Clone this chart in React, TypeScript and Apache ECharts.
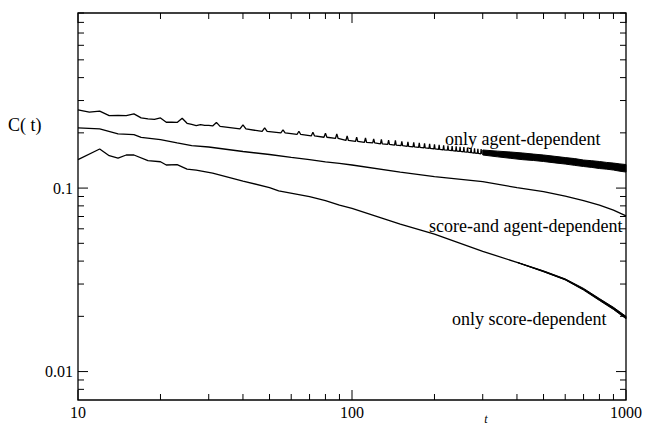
import React, { useEffect, useRef } from "react";
import * as echarts from "echarts";

// ---- axis ranges & ticks ----
const X_MIN = 10;
const X_MAX = 1000;
const Y_MIN = 0.007;
const Y_MAX = 0.9;
const xMajorTicks = [10, 100, 1000];
const xMinorTicks = [20, 30, 40, 50, 60, 70, 80, 90, 200, 300, 400, 500, 600, 700, 800, 900];
const yMajorTicks = [0.01, 0.1];
const yMinorTicks = [0.008, 0.009, 0.02, 0.03, 0.04, 0.05, 0.06, 0.07, 0.08, 0.09, 0.2, 0.3, 0.4, 0.5, 0.6, 0.7, 0.8, 0.9];

// ---- only agent-dependent (early part, read point by point) ----
const agentEarlyT = [10, 11, 12, 13, 14, 15, 16, 17, 18, 19, 20, 21, 22, 23, 24, 25, 26, 27, 28, 29, 30, 31, 32, 33];
const agentEarlyC = [0.2668, 0.2592, 0.2625, 0.2483, 0.249, 0.2483, 0.2537, 0.2412, 0.2382, 0.2367, 0.2412, 0.2285, 0.2285, 0.228, 0.2403, 0.2256, 0.2223, 0.219, 0.2217, 0.2195, 0.2195, 0.2181, 0.228, 0.2168];
// periodic spikes (every 8 steps): baseline and spike top
const agentSpikeT = [40, 48, 56, 64, 72, 80, 88, 96, 104, 112, 120, 128, 136, 144, 152, 160, 168, 176, 184, 192, 200, 208, 216, 224, 232, 240, 248, 256, 264, 272, 280, 288, 296];
const agentSpikeBase = [0.2101, 0.2036, 0.1998, 0.196, 0.1924, 0.1893, 0.1864, 0.1818, 0.1795, 0.1777, 0.1762, 0.1744, 0.1729, 0.1716, 0.1703, 0.169, 0.1677, 0.1667, 0.1657, 0.1646, 0.1636, 0.1626, 0.1615, 0.1609, 0.1601, 0.1593, 0.1585, 0.1577, 0.1569, 0.1561, 0.1553, 0.1545, 0.1537];
const agentSpikeTop = [0.2209, 0.2127, 0.2074, 0.204, 0.2015, 0.1992, 0.1973, 0.1924, 0.1893, 0.1876, 0.1852, 0.184, 0.1824, 0.1818, 0.1799, 0.1788, 0.1775, 0.1766, 0.1755, 0.1744, 0.1734, 0.1723, 0.1712, 0.1705, 0.1697, 0.1688, 0.168, 0.1671, 0.1663, 0.1654, 0.1646, 0.1638, 0.163];
// dense oscillation band at late times: upper / lower envelope
const agentBandT = [300, 340, 380, 420, 460, 500, 550, 600, 650, 700, 750, 800, 850, 900, 950, 1000];
const agentBandHi = [0.1613, 0.159, 0.1572, 0.1553, 0.1532, 0.1515, 0.149, 0.1467, 0.1448, 0.1422, 0.141, 0.1396, 0.138, 0.1369, 0.1355, 0.1344];
const agentBandLo = [0.1515, 0.148, 0.1452, 0.1428, 0.1414, 0.1396, 0.1372, 0.1352, 0.133, 0.1311, 0.1296, 0.1278, 0.1268, 0.1254, 0.1236, 0.1223];

// ---- score-and agent-dependent ----
const bothT = [10, 12, 14, 16, 17, 20, 23, 26, 30, 40, 50, 60, 70, 80, 90, 100, 150, 200, 300, 400, 500, 600, 700, 800, 900, 1000];
const bothC = [0.2128, 0.2101, 0.1973, 0.1956, 0.1892, 0.1836, 0.1762, 0.1703, 0.1675, 0.1583, 0.1524, 0.1471, 0.1428, 0.139, 0.1365, 0.1336, 0.1223, 0.1156, 0.1085, 0.1006, 0.0957, 0.0904, 0.0855, 0.0807, 0.0758, 0.0706];

// ---- only score-dependent ----
const scoreT = [10, 12, 13, 14, 15, 16, 18, 20, 21, 23, 25, 27, 31, 40, 50, 54, 70, 80, 90, 100, 150, 200, 300, 400, 500, 600, 700, 800, 900, 1000];
const scoreC = [0.1428, 0.1634, 0.1501, 0.1458, 0.1515, 0.1515, 0.141, 0.1392, 0.1336, 0.1341, 0.127, 0.1254, 0.1208, 0.1092, 0.1006, 0.0966, 0.0899, 0.0855, 0.0807, 0.0775, 0.0636, 0.0561, 0.0452, 0.0394, 0.0352, 0.0318, 0.0281, 0.0247, 0.0221, 0.0197];
// noisy thickening of the score-dependent curve at late times
const scoreBandT = [400, 500, 600, 700, 800, 900, 1000];
const scoreBandHi = [0.0394, 0.0354, 0.032, 0.0284, 0.025, 0.0224, 0.02];
const scoreBandLo = [0.0394, 0.035, 0.0316, 0.0278, 0.0244, 0.0218, 0.0194];

const SERIF = '"Liberation Serif", "DejaVu Serif", serif';

function buildAgent(): number[][] {
  const pts: number[][] = agentEarlyT.map((t, i) => [t, agentEarlyC[i]]);
  agentSpikeT.forEach((t, i) => {
    pts.push([t - 1, agentSpikeBase[i]]);
    pts.push([t, agentSpikeTop[i]]);
    pts.push([t + 1, agentSpikeBase[i]]);
  });
  return pts;
}

function bandSeries(name: string, T: number[], hi: number[], lo: number[], stroke: number) {
  return {
    type: "custom",
    name,
    data: [[T[0], hi[0]]],
    encode: { x: 0, y: 1 },
    z: 3,
    renderItem: (_p: any, api: any) => {
      const pts: number[][] = [];
      T.forEach((t, i) => pts.push(api.coord([t, hi[i]])));
      for (let i = T.length - 1; i >= 0; i--) pts.push(api.coord([T[i], lo[i]]));
      return { type: "polygon", shape: { points: pts }, style: { fill: "#000", stroke: "#000", lineWidth: stroke, lineJoin: "round" } };
    },
  };
}

export default function App() {
  const ref = useRef<HTMLDivElement>(null);
  useEffect(() => {
    if (!ref.current) return;
    document.body.style.margin = "0";
    const chart = echarts.init(ref.current, null, { renderer: "svg" });
    const lineStyle = { color: "#000", width: 1.3 };
    const fmt = (v: number) => String(parseFloat(Number(v).toPrecision(3)));
    const tickLine = (x1: number, y1: number, x2: number, y2: number) => ({
      type: "line",
      shape: { x1, y1, x2, y2 },
      style: { stroke: "#000", lineWidth: 1 },
    });
    chart.setOption({
      animation: false,
      backgroundColor: "#fff",
      grid: { left: 78, right: 16, top: 13, bottom: 26, show: true, borderColor: "#000", borderWidth: 1.3, backgroundColor: "transparent" },
      xAxis: {
        type: "log",
        logBase: 10,
        min: X_MIN,
        max: X_MAX,
        axisLine: { show: false },
        axisTick: { show: false },
        splitLine: { show: false },
        axisLabel: { color: "#000", fontFamily: SERIF, fontSize: 16, margin: 4, formatter: fmt },
      },
      yAxis: {
        type: "log",
        logBase: 10,
        min: Y_MIN,
        max: Y_MAX,
        axisLine: { show: false },
        axisTick: { show: false },
        splitLine: { show: false },
        axisLabel: { color: "#000", fontFamily: SERIF, fontSize: 16, margin: 5, formatter: fmt, showMinLabel: false, showMaxLabel: false },
      },
      series: [
        {
          type: "line",
          name: "only agent-dependent",
          data: buildAgent(),
          showSymbol: false,
          symbol: "none",
          lineStyle,
          z: 3,
        },
        bandSeries("agent band", agentBandT, agentBandHi, agentBandLo, 1),
        {
          type: "line",
          name: "score-and agent-dependent",
          data: bothT.map((t, i) => [t, bothC[i]]),
          showSymbol: false,
          symbol: "none",
          lineStyle,
          z: 3,
        },
        {
          type: "line",
          name: "only score-dependent",
          data: scoreT.map((t, i) => [t, scoreC[i]]),
          showSymbol: false,
          symbol: "none",
          lineStyle,
          z: 3,
        },
        bandSeries("score band", scoreBandT, scoreBandHi, scoreBandLo, 1),
        {
          type: "custom",
          name: "x ticks",
          data: [...xMajorTicks.map((v) => [v, 0.1, 10]), ...xMinorTicks.map((v) => [v, 0.1, 6])],
          encode: { x: 0, y: 1 },
          z: 4,
          renderItem: (_p: any, api: any) => {
            const t = api.value(0);
            const len = api.value(2);
            const b = api.coord([t, Y_MIN]);
            const tp = api.coord([t, Y_MAX]);
            return {
              type: "group",
              children: [tickLine(b[0], b[1], b[0], b[1] - len), tickLine(tp[0], tp[1], tp[0], tp[1] + len)],
            };
          },
        },
        {
          type: "custom",
          name: "y ticks",
          data: [...yMajorTicks.map((v) => [100, v, 10]), ...yMinorTicks.map((v) => [100, v, 6])],
          encode: { x: 0, y: 1 },
          z: 4,
          renderItem: (_p: any, api: any) => {
            const v = api.value(1);
            const len = api.value(2);
            const l = api.coord([X_MIN, v]);
            const r = api.coord([X_MAX, v]);
            return {
              type: "group",
              children: [tickLine(l[0], l[1], l[0] + len, l[1]), tickLine(r[0], r[1], r[0] - len, r[1])],
            };
          },
        },
      ],
      graphic: [
        { type: "text", x: 8, y: 125, style: { text: "C( t)", font: `18px ${SERIF}`, fill: "#000", textAlign: "left", textVerticalAlign: "middle" } },
        { type: "text", x: 486, y: 419, style: { text: "t", font: `italic 12px ${SERIF}`, fill: "#000", textAlign: "center", textVerticalAlign: "middle" } },
        { type: "text", x: 445, y: 139, style: { text: "only agent-dependent", font: `18px ${SERIF}`, fill: "#000", textAlign: "left", textVerticalAlign: "middle" } },
        { type: "text", x: 429, y: 226, style: { text: "score-and agent-dependent", font: `18px ${SERIF}`, fill: "#000", textAlign: "left", textVerticalAlign: "middle" } },
        { type: "text", x: 452, y: 319, style: { text: "only score-dependent", font: `18px ${SERIF}`, fill: "#000", textAlign: "left", textVerticalAlign: "middle" } },
      ],
    });
    return () => chart.dispose();
  }, []);
  return <div ref={ref} style={{ width: 645, height: 426 }} />;
}
